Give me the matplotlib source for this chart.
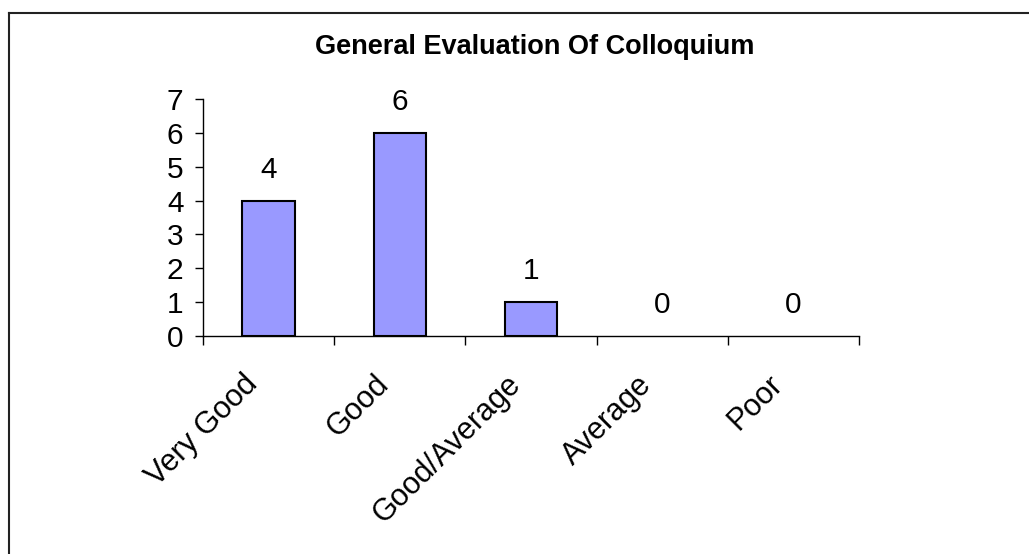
import matplotlib
matplotlib.use('Agg')
import matplotlib.pyplot as plt
import matplotlib.transforms as mtransforms
from matplotlib.lines import Line2D
import numpy as np

categories = ['Very Good', 'Good', 'Good/Average', 'Average', 'Poor']
counts = [4, 6, 1, 0, 0]

plt.rcParams['font.family'] = ['Liberation Sans', 'DejaVu Sans']

fig = plt.figure(figsize=(10.29, 5.54), dpi=100, facecolor='white')
ax = fig.add_axes([0.1973, 0.3935, 0.6375, 0.4278])

x = np.arange(len(categories))
# zero-height bars get no outline, as in the original
edge_widths = [1.5 if v > 0 else 0 for v in counts]
ax.bar(x, counts, width=0.4, color='#9999FF', edgecolor='black',
       linewidth=edge_widths, zorder=3)

# value labels above bars
for xi, v in zip(x, counts):
    ax.annotate(str(v), (xi, v), xytext=(0, 12), textcoords='offset points',
                ha='center', va='bottom', fontsize=21.5)

ax.set_xlim(-0.5, len(categories) - 0.5)
ax.set_ylim(0, 7)
ax.set_yticks(range(0, 8))
ax.tick_params(axis='y', direction='out', length=6, width=1, labelsize=21.5, pad=8)

# category labels centred, ticks on the boundaries (Excel style)
ax.set_xticks(x)
ax.set_xticklabels(categories, rotation=45, ha='right', va='center',
                   rotation_mode='anchor', fontsize=22)
ax.tick_params(axis='x', which='major', length=0, pad=0)
ax.set_xticks(np.arange(-0.5, len(categories)), minor=True)
ax.tick_params(axis='x', which='minor', direction='out', length=6.5, width=1)

shift = mtransforms.ScaledTranslation(-0.15, -0.44, fig.dpi_scale_trans)
for lbl in ax.get_xticklabels():
    lbl.set_transform(lbl.get_transform() + shift)

for s in ['top', 'right']:
    ax.spines[s].set_visible(False)
for s in ['left', 'bottom']:
    ax.spines[s].set_linewidth(1)

fig.text(0.52, 0.915, 'General Evaluation Of Colloquium', ha='center', va='center',
         fontsize=19.5, fontweight='bold')

# chart area border (left and top edges visible)
fig.add_artist(Line2D([0.0083, 0.0083], [0.0, 0.9765], transform=fig.transFigure,
                      color='#222222', linewidth=1.5))
fig.add_artist(Line2D([0.0083, 1.0], [0.9765, 0.9765], transform=fig.transFigure,
                      color='#222222', linewidth=1.5))

fig.savefig('out.png', dpi=100, facecolor='white')
